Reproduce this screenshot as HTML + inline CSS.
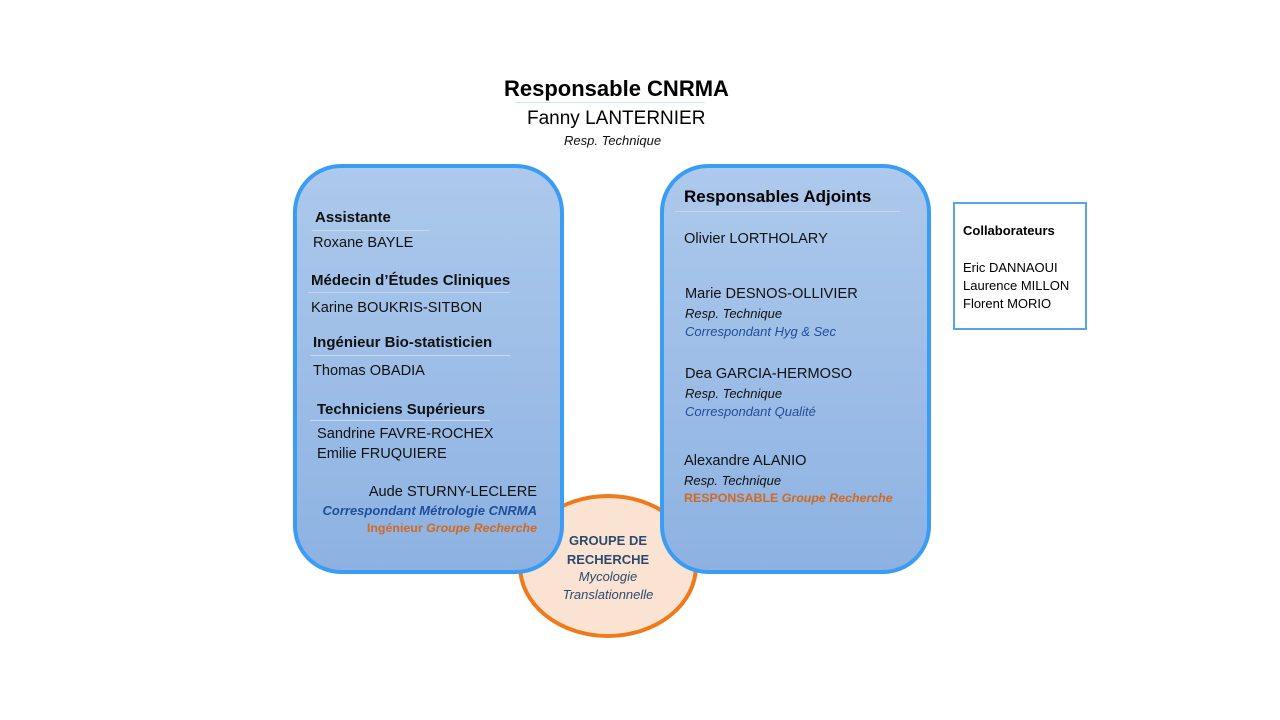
<!DOCTYPE html>
<html><head><style>
body{margin:0;width:1280px;height:720px;background:#fff;position:relative;overflow:hidden;font-family:"Liberation Sans",sans-serif;}
.a{position:absolute;white-space:nowrap;}
.box{position:absolute;border:4px solid #3a9cf2;border-radius:48px;background:linear-gradient(#adc9ec,#8db2e2);box-sizing:border-box;}
.h{font-weight:bold;font-size:15px;color:#111;}
.n{font-size:14.6px;color:#111;}
.i{font-style:italic;font-size:13px;color:#111;}
.b{font-style:italic;font-size:13px;color:#1f4e9a;}
.o{font-weight:bold;font-size:12.4px;color:#d2691e;}
.ln{position:absolute;height:1px;background:#c8d8ee;}
</style></head><body>
<div class="a" style="left:504px;top:76px;font-size:22px;font-weight:bold;">Responsable CNRMA</div>
<div class="ln" style="left:515px;top:102px;width:190px;background:#cfe0f2"></div>
<div class="a" style="left:527px;top:108px;font-size:19px;">Fanny LANTERNIER</div>
<div class="a i" style="left:564px;top:133px;">Resp. Technique</div>

<div style="position:absolute;left:518px;top:494px;width:180px;height:144px;border-radius:50%;border:4px solid #ef7a1a;background:#fbe3d4;box-sizing:border-box;"></div>

<div class="box" style="left:293px;top:164px;width:271px;height:410px;"></div>
<div class="box" style="left:660px;top:164px;width:271px;height:410px;"></div>

<div class="a h" style="left:315px;top:209px;">Assistante</div>
<div class="ln" style="left:312px;top:230px;width:118px"></div>
<div class="a n" style="left:313px;top:235px;">Roxane BAYLE</div>
<div class="a h" style="left:311px;top:272px;">Médecin d’Études Cliniques</div>
<div class="ln" style="left:308px;top:292px;width:202px"></div>
<div class="a n" style="left:311px;top:300px;">Karine BOUKRIS-SITBON</div>
<div class="a h" style="left:313px;top:334px;">Ingénieur Bio-statisticien</div>
<div class="ln" style="left:310px;top:355px;width:200px"></div>
<div class="a n" style="left:313px;top:363px;">Thomas OBADIA</div>
<div class="a h" style="left:317px;top:401px;">Techniciens Supérieurs</div>
<div class="ln" style="left:310px;top:420px;width:180px"></div>
<div class="a n" style="left:317px;top:426px;">Sandrine FAVRE-ROCHEX</div>
<div class="a n" style="left:317px;top:446px;">Emilie FRUQUIERE</div>
<div class="a n" style="right:743px;top:484px;">Aude STURNY-LECLERE</div>
<div class="a b" style="right:743px;top:503px;font-weight:bold;">Correspondant Métrologie CNRMA</div>
<div class="a o" style="right:743px;top:521px;">Ingénieur <i>Groupe Recherche</i></div>

<div class="a" style="left:684px;top:187px;font-size:17px;font-weight:bold;">Responsables Adjoints</div>
<div class="ln" style="left:675px;top:211px;width:225px"></div>
<div class="a n" style="left:684px;top:231px;">Olivier LORTHOLARY</div>
<div class="a n" style="left:685px;top:286px;">Marie DESNOS-OLLIVIER</div>
<div class="a i" style="left:685px;top:306px;">Resp. Technique</div>
<div class="a b" style="left:685px;top:324px;">Correspondant Hyg &amp; Sec</div>
<div class="a n" style="left:685px;top:366px;">Dea GARCIA-HERMOSO</div>
<div class="a i" style="left:685px;top:386px;">Resp. Technique</div>
<div class="a b" style="left:685px;top:404px;">Correspondant Qualité</div>
<div class="a n" style="left:684px;top:453px;">Alexandre ALANIO</div>
<div class="a i" style="left:684px;top:473px;">Resp. Technique</div>
<div class="a o" style="left:684px;top:491px;">RESPONSABLE <i>Groupe Recherche</i></div>

<div class="a" style="left:548px;top:531px;width:120px;text-align:center;font-size:13px;font-weight:bold;color:#2b4a6e;line-height:19px;">GROUPE DE<br>RECHERCHE</div>
<div class="a" style="left:548px;top:568px;width:120px;text-align:center;font-size:13px;font-style:italic;color:#2b4a6e;line-height:18px;">Mycologie<br>Translationnelle</div>

<div style="position:absolute;left:953px;top:202px;width:134px;height:128px;border:2px solid #5aa4e6;box-sizing:border-box;"></div>
<div class="a" style="left:963px;top:223px;font-size:13px;font-weight:bold;">Collaborateurs</div>
<div class="a" style="left:963px;top:259px;font-size:13px;line-height:18px;">Eric DANNAOUI<br>Laurence MILLON<br>Florent MORIO</div>
</body></html>
